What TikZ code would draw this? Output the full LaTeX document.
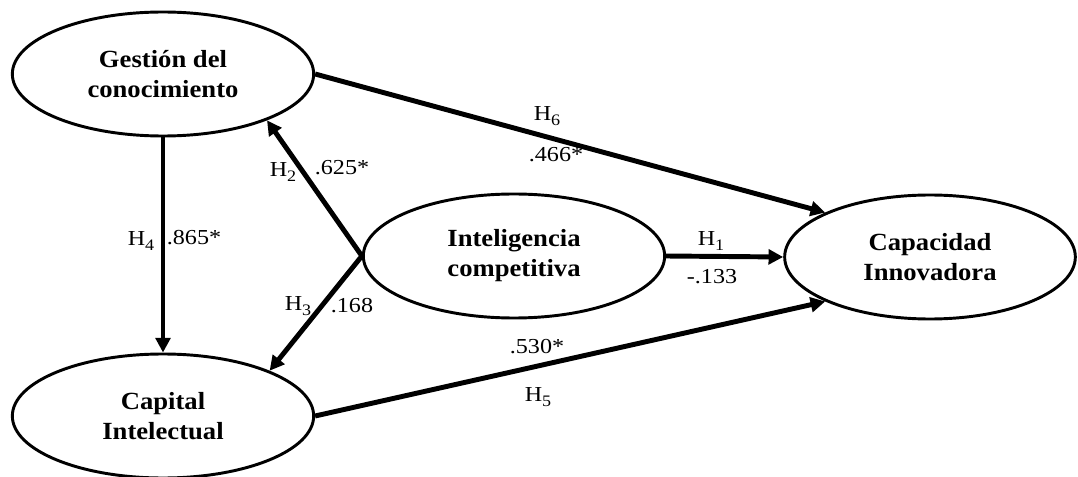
\documentclass[tikz,border=0pt]{standalone}
\usepackage{fontspec}
\setmainfont{Liberation Serif}
\newfontfamily\boldlab[FakeStretch=1.08]{Liberation Serif}
\newfontfamily\reglab[FakeStretch=1.13]{Liberation Serif}
\usetikzlibrary{shapes.geometric,arrows.meta}
\newcommand{\Hsub}[1]{H\raisebox{-0.45ex}{\fontsize{12pt}{12pt}\selectfont #1}}
\tikzset{
  latent/.style={ellipse, draw, line width=2.2pt, inner sep=0pt,
    minimum width=226pt, minimum height=93pt, align=center,
    font=\boldlab\bfseries\fontsize{18.5pt}{22.5pt}\selectfont},
  path/.style={line width=3.7pt, -{Triangle[length=11pt,width=11pt]}},
  lab/.style={inner sep=0pt, font=\reglab\fontsize{16pt}{18pt}\selectfont}
}
\begin{document}
\begin{tikzpicture}[x=0.75pt,y=-0.75pt]
\useasboundingbox (0,0) rectangle (1078,477);
\node[latent] (gest) at (163,74) {Gestión del\\conocimiento};
\node[latent] (cap) at (163,416) {Capital\\Intelectual};
\node[latent] (intel) at (514,256) {Inteligencia\\competitiva};
\node[latent, minimum width=218pt] (inn) at (930,257) {Capacidad\\Innovadora};

\draw[path] (gest.south) -- (cap.north);
\draw[path] (intel.west) -- (gest.-24);
\draw[path] (intel.west) -- (cap.23);
\draw[path] (gest.east) -- (inn.157);
\draw[path] (intel.east) -- (inn.west);
\draw[path] (cap.east) -- (inn.203);

\node[lab] (h2) at (283,172) {\Hsub{2}};
\node[lab] (v2) at (342,168) {.625*};
\node[lab] (h4) at (141,241) {\Hsub{4}};
\node[lab] (v4) at (194,238) {.865*};
\node[lab] (h3) at (298,306) {\Hsub{3}};
\node[lab] (v3) at (352,306) {.168};
\node[lab] (h6) at (547,116) {\Hsub{6}};
\node[lab] (v6) at (556,155) {.466*};
\node[lab] (h1) at (711,241) {\Hsub{1}};
\node[lab] (v1) at (712,277) {-.133};
\node[lab] (v5) at (537,347) {.530*};
\node[lab] (h5) at (538,397) {\Hsub{5}};
\end{tikzpicture}
\end{document}
